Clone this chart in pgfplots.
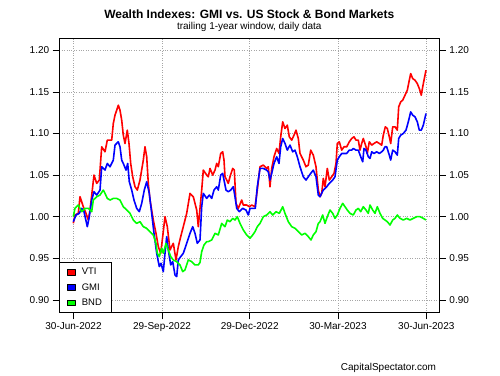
\documentclass[border=0pt]{standalone}
\usepackage{fontspec}
\setmainfont{Liberation Sans}
\usepackage{pgfplots}
\pgfplotsset{compat=1.18}
\definecolor{rred}{RGB}{255,0,0}
\definecolor{rblue}{RGB}{0,0,255}
\definecolor{rgreen}{RGB}{0,255,0}
\begin{document}
\begin{tikzpicture}[x=1pt,y=1pt]
\useasboundingbox (0,0) rectangle (500,375);
\node[font=\bfseries\fontsize{12}{14}\selectfont] at (249.3,361) {Wealth Indexes: GMI vs. US Stock \& Bond Markets};
\node[font=\fontsize{10}{12}\selectfont] at (249.3,348) {trailing 1-year window, daily data};
\node[font=\fontsize{10}{12}\selectfont, anchor=east] at (439.5,7) {CapitalSpectator.com};
\begin{axis}[
  at={(59.3pt,62.3pt)}, anchor=south west,
  width=380pt, height=274.4pt, scale only axis,
  xmin=59.3, xmax=439.3, ymin=0.8846, ymax=1.2144,
  xtick={73.5,162,249.7,338,426.3},
  xticklabels={30-Jun-2022,29-Sep-2022,29-Dec-2022,30-Mar-2023,30-Jun-2023},
  ytick={0.90,0.95,1.00,1.05,1.10,1.15,1.20},
  yticklabels={0.90,0.95,1.00,1.05,1.10,1.15,1.20},
  xtick pos=bottom, ytick pos=left,
  tick align=outside, major tick length=6.6pt,
  tick style={black, line width=0.6pt},
  axis line style={black, line width=0.8pt},
  grid=major, major grid style={dotted, black!35, line width=0.7pt},
  ticklabel style={font=\fontsize{10}{12}\selectfont},
  legend style={at={(0,0)}, anchor=south west, draw=black, line width=0.7pt, fill=white,
    font=\fontsize{9.5}{11}\selectfont, inner xsep=7.5pt, inner ysep=3.5pt, row sep=3.2pt, column sep=4.5pt, cells={anchor=west}},
  legend image code/.code={\filldraw[#1, draw=black, line width=0.5pt] (0pt,-2.8pt) rectangle (7.7pt,2.8pt);},
  every axis plot/.append style={line width=1.6pt, mark=none, line join=round},
]
\addplot[rred] coordinates {
(73.3,0.992)(75.0,1.002)(78.3,1.004)(80.0,1.024)(83.3,1.012)(86.0,1.004)(88.3,0.996)(90.0,1.008)
(92.3,1.032)(94.0,1.05)(96.7,1.04)(99.3,1.044)(101.7,1.084)(105.0,1.078)(107.3,1.092)(111.7,1.092)
(113.3,1.112)(115.0,1.122)(116.7,1.128)(118.3,1.134)(120.0,1.128)(121.7,1.116)(123.3,1.098)(125.0,1.088)
(127.3,1.104)(129.0,1.088)(130.7,1.064)(132.7,1.048)(135.0,1.036)(137.3,1.032)(140.0,1.044)(143.3,1.068)
(145.0,1.084)(146.7,1.072)(148.3,1.04)(150.0,1.02)(153.3,0.996)(156.0,0.98)(158.3,0.964)(160.7,0.956)
(162.7,0.976)(165.0,1.0)(167.3,0.988)(170.0,0.96)(173.3,0.968)(176.0,0.948)(178.3,0.964)(180.7,0.976)
(183.3,0.988)(186.7,1.004)(190.0,1.028)(193.3,1.024)(196.7,1.008)(198.3,0.988)(201.7,1.032)(203.3,1.056)
(206.7,1.05)(208.3,1.048)(210.0,1.058)(212.7,1.05)(215.0,1.056)(216.7,1.064)(218.3,1.06)(220.7,1.076)
(222.7,1.078)(224.0,1.068)(225.0,1.048)(226.7,1.044)(228.3,1.04)(230.0,1.048)(232.7,1.058)(234.3,1.056)
(236.0,1.016)(238.3,1.01)(241.7,1.02)(243.3,1.014)(246.7,1.014)(249.3,1.012)(251.7,1.014)(255.0,1.012)
(257.3,1.032)(260.0,1.06)(263.3,1.062)(266.7,1.058)(268.3,1.06)(270.0,1.036)(271.7,1.058)(274.0,1.072)
(276.7,1.082)(279.0,1.076)(280.7,1.096)(282.7,1.114)(285.0,1.106)(287.3,1.11)(289.3,1.096)(291.7,1.092)
(294.0,1.098)(296.0,1.104)(298.3,1.094)(300.0,1.076)(303.3,1.068)(306.0,1.06)(308.3,1.062)(310.7,1.08)
(313.3,1.074)(316.0,1.06)(318.3,1.032)(320.0,1.024)(321.7,1.028)(323.3,1.046)(325.0,1.036)(327.3,1.058)
(329.3,1.044)(331.7,1.048)(334.0,1.052)(336.0,1.064)(337.3,1.088)(339.3,1.09)(341.7,1.08)(344.0,1.084)
(346.7,1.084)(349.3,1.09)(351.7,1.094)(354.0,1.096)(356.0,1.092)(358.3,1.092)(360.0,1.08)(361.7,1.088)
(363.3,1.094)(366.0,1.084)(367.3,1.076)(369.3,1.09)(371.7,1.086)(374.0,1.088)(376.7,1.09)(379.3,1.088)
(381.7,1.086)(383.3,1.098)(385.3,1.108)(387.3,1.106)(389.3,1.096)(390.7,1.088)(392.7,1.108)(395.0,1.108)
(397.3,1.104)(398.7,1.132)(400.7,1.138)(402.7,1.14)(405.0,1.146)(407.3,1.152)(409.3,1.164)(410.7,1.172)
(412.7,1.166)(415.0,1.164)(417.3,1.16)(419.3,1.154)(421.3,1.146)(422.7,1.156)(424.0,1.164)(426.0,1.176)
};
\addlegendentry{VTI}
\addplot[rblue] coordinates {
(73.3,0.994)(76.0,1.002)(79.3,1.004)(81.7,1.01)(84.0,1.006)(87.3,0.988)(89.3,1.0)(91.7,1.02)
(94.0,1.03)(96.7,1.026)(100.0,1.032)(101.7,1.06)(105.0,1.056)(107.3,1.064)(110.0,1.06)(113.3,1.068)
(115.0,1.086)(118.3,1.09)(120.0,1.084)(121.7,1.068)(123.3,1.064)(126.0,1.056)(127.7,1.064)(129.3,1.042)
(131.7,1.032)(134.0,1.02)(136.7,1.01)(139.3,1.006)(141.7,1.016)(144.3,1.032)(146.7,1.042)(149.3,1.028)
(151.7,1.004)(154.0,0.98)(156.7,0.956)(159.3,0.94)(161.0,0.944)(163.3,0.934)(165.0,0.956)(166.7,0.976)
(168.3,0.96)(170.7,0.942)(172.7,0.946)(175.0,0.93)(176.7,0.928)(178.3,0.948)(180.7,0.952)(183.3,0.956)
(186.7,0.968)(190.0,0.98)(192.7,0.988)(195.0,0.98)(197.3,0.968)(200.0,0.972)(201.7,1.012)(203.3,1.028)
(206.7,1.022)(209.3,1.026)(211.7,1.022)(214.0,1.032)(216.7,1.036)(218.3,1.032)(220.7,1.05)(222.7,1.052)
(224.0,1.044)(226.0,1.032)(228.3,1.03)(230.7,1.032)(233.3,1.036)(235.0,1.024)(236.7,1.01)(239.3,1.006)
(242.7,1.01)(246.0,1.008)(248.3,1.002)(250.0,1.01)(252.7,1.01)(255.3,1.01)(257.3,1.036)(260.0,1.058)
(263.3,1.058)(266.7,1.056)(268.3,1.054)(270.0,1.044)(271.7,1.052)(274.0,1.064)(276.7,1.072)(279.0,1.064)
(280.7,1.084)(282.7,1.094)(285.0,1.088)(287.3,1.08)(290.0,1.086)(292.7,1.078)(295.0,1.08)(297.3,1.072)
(300.0,1.06)(303.3,1.048)(306.0,1.044)(308.3,1.048)(310.7,1.052)(313.3,1.056)(316.0,1.048)(318.3,1.026)
(320.0,1.024)(323.3,1.032)(326.7,1.036)(329.3,1.04)(332.7,1.044)(335.0,1.048)(337.3,1.068)(339.3,1.072)
(341.7,1.076)(344.0,1.076)(346.7,1.076)(349.3,1.08)(351.7,1.08)(353.3,1.082)(356.0,1.08)(358.3,1.08)
(360.7,1.072)(362.7,1.066)(364.0,1.082)(366.0,1.08)(368.3,1.072)(370.0,1.07)(371.7,1.078)(374.0,1.076)
(376.7,1.078)(379.3,1.076)(381.7,1.078)(383.3,1.08)(385.0,1.084)(386.7,1.084)(389.3,1.074)(390.7,1.068)
(392.7,1.08)(395.0,1.078)(397.3,1.074)(398.7,1.094)(400.7,1.098)(403.3,1.1)(406.0,1.104)(408.3,1.114)
(410.7,1.126)(412.7,1.122)(415.0,1.12)(417.3,1.114)(419.3,1.104)(421.3,1.104)(423.3,1.11)(426.0,1.124)
};
\addlegendentry{GMI}
\addplot[rgreen] coordinates {
(73.3,1.0)(75.0,1.01)(78.3,1.014)(81.7,1.006)(85.0,1.01)(88.3,1.01)(91.7,1.006)(93.3,1.02)
(96.7,1.024)(100.0,1.026)(103.3,1.032)(105.0,1.028)(107.3,1.022)(110.0,1.02)(113.3,1.022)(116.7,1.022)
(120.0,1.02)(123.3,1.012)(126.7,1.008)(130.0,1.004)(133.3,0.996)(136.7,0.992)(140.0,0.994)(143.3,0.988)
(146.7,0.986)(150.0,0.982)(153.3,0.978)(156.0,0.968)(157.3,0.956)(159.3,0.952)(161.7,0.962)(163.3,0.956)
(166.0,0.968)(168.3,0.96)(170.7,0.952)(173.3,0.948)(176.7,0.946)(180.0,0.942)(182.7,0.934)(185.0,0.936)
(188.3,0.948)(191.7,0.946)(195.0,0.942)(198.3,0.942)(200.0,0.945)(201.7,0.958)(204.0,0.966)(206.7,0.97)
(208.3,0.97)(211.7,0.972)(215.0,0.98)(218.3,0.978)(221.7,0.992)(225.0,0.988)(227.3,0.996)(230.0,0.994)
(232.7,0.998)(235.0,0.996)(237.3,1.0)(240.0,0.992)(243.3,0.984)(246.7,0.978)(250.0,0.974)(252.7,0.978)
(255.0,0.982)(257.3,0.988)(260.0,0.992)(263.3,1.0)(266.7,1.002)(270.0,1.006)(272.7,1.002)(276.0,1.006)
(279.3,1.004)(282.7,1.012)(285.0,1.004)(288.3,0.994)(291.7,0.988)(295.0,0.986)(298.3,0.982)(301.7,0.978)
(305.0,0.98)(308.3,0.976)(311.0,0.972)(313.3,0.978)(316.0,0.982)(318.3,0.992)(320.0,0.994)(322.7,1.002)
(325.0,0.992)(327.3,1.0)(330.0,1.008)(332.7,1.004)(335.0,0.998)(337.3,1.002)(340.0,1.01)(342.7,1.016)
(345.0,1.012)(347.3,1.008)(350.0,1.004)(353.3,1.002)(356.0,1.008)(358.3,1.01)(360.7,1.006)(363.3,1.012)
(366.0,1.008)(368.3,1.004)(370.0,1.014)(372.7,1.008)(375.0,1.004)(377.3,1.012)(380.0,1.004)(382.7,0.998)
(385.0,0.996)(387.3,0.994)(390.0,0.99)(392.7,0.996)(395.0,0.998)(397.3,1.002)(400.0,0.998)(403.3,0.996)
(406.7,0.998)(410.0,0.996)(413.3,0.998)(416.7,1.0)(420.0,1.0)(423.3,0.998)(426.0,0.996)
};
\addlegendentry{BND}
\end{axis}
\begin{axis}[
  at={(59.3pt,62.3pt)}, anchor=south west,
  width=380pt, height=274.4pt, scale only axis,
  xmin=59.3, xmax=439.3, ymin=0.8846, ymax=1.2144,
  axis x line=none, axis y line*=right,
  ytick={0.90,0.95,1.00,1.05,1.10,1.15,1.20},
  yticklabels={0.90,0.95,1.00,1.05,1.10,1.15,1.20},
  tick align=outside, major tick length=6.6pt,
  tick style={black, line width=0.6pt},
  axis line style={black, line width=0.8pt},
  ticklabel style={font=\fontsize{10}{12}\selectfont},
]
\addplot[draw=none] coordinates {(100,1.0)};
\end{axis}
\end{tikzpicture}
\end{document}
